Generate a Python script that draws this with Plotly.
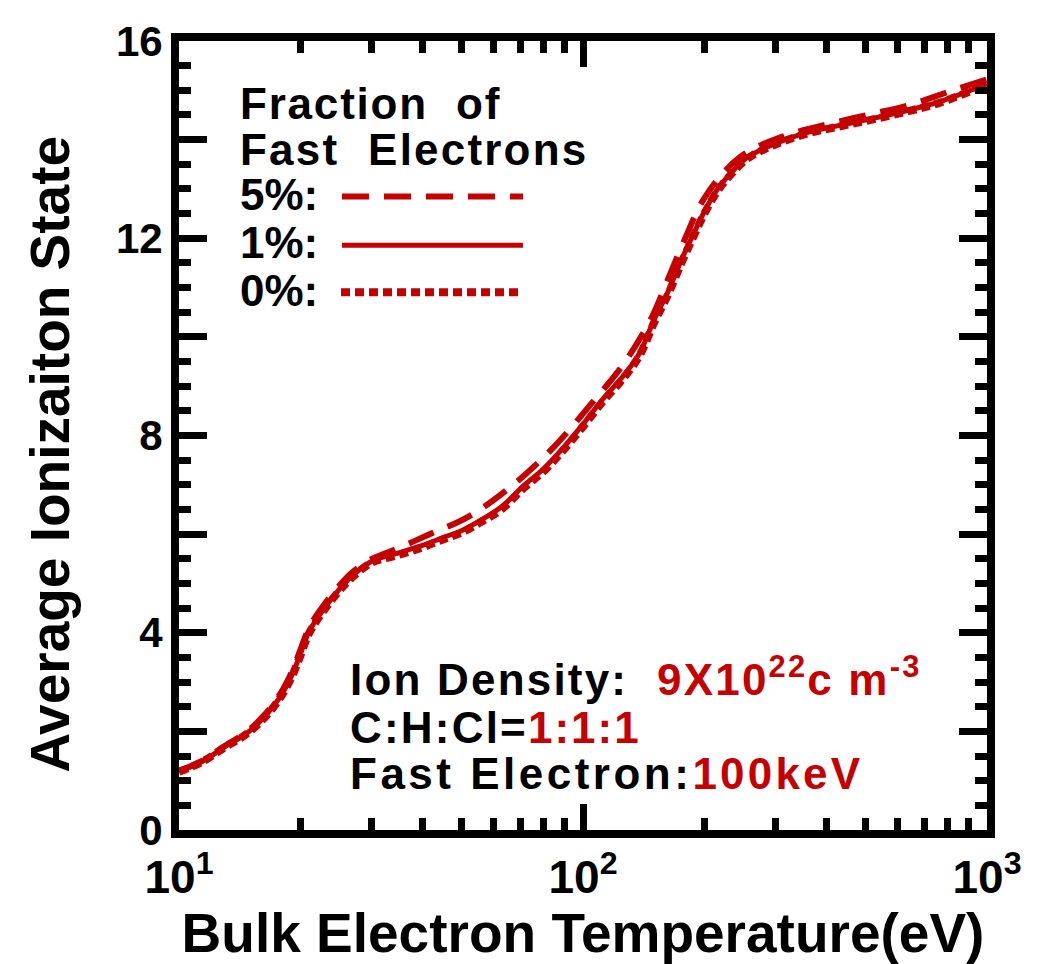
import plotly.graph_objects as go

# Bulk electron temperature (eV) and average ionization state for each fast-electron fraction
temp_1pct = [10, 11.4, 13.0, 14.6, 16.3, 17.8, 19.0, 19.9, 20.9, 22.1, 24.8, 26.8, 30, 35, 40,
             45, 50, 56, 63, 71, 80, 90, 100, 112, 125, 138, 150, 162, 175, 188, 200, 215,
             231, 255, 295, 358, 433, 522, 634, 765, 1000]
zbar_1pct = [1.19, 1.39, 1.69, 1.94, 2.30, 2.70, 3.13, 3.53, 3.99, 4.32, 4.86, 5.15, 5.45, 5.62,
             5.77, 5.93, 6.07, 6.29, 6.56, 6.97, 7.33, 7.78, 8.23, 8.74, 9.18, 9.67, 10.35, 10.9,
             11.55, 12.1, 12.55, 12.99, 13.30, 13.64, 13.90, 14.14, 14.29, 14.43, 14.59, 14.77,
             15.13]

temp_0pct = temp_1pct
zbar_0pct = [1.18, 1.38, 1.68, 1.93, 2.28, 2.68, 3.10, 3.50, 3.96, 4.29, 4.83, 5.12, 5.42, 5.58,
             5.73, 5.89, 6.03, 6.25, 6.51, 6.92, 7.28, 7.73, 8.18, 8.69, 9.13, 9.62, 10.29,
             10.84, 11.49, 12.05, 12.51, 12.95, 13.27, 13.61, 13.88, 14.12, 14.27, 14.41, 14.57,
             14.75, 15.12]

temp_5pct = [10, 11.4, 13.0, 14.6, 16.3, 17.8, 19.0, 19.9, 20.9, 22.1, 24.8, 26.8, 30, 32.7,
             41.3, 52.2, 66.7, 84.3, 105, 126, 147, 161, 178, 201, 245, 309, 398, 505, 641, 810,
             1000]
zbar_5pct = [1.20, 1.40, 1.71, 1.97, 2.34, 2.76, 3.20, 3.62, 4.07, 4.40, 4.93, 5.22, 5.50, 5.62,
             5.98, 6.36, 6.98, 7.75, 8.65, 9.45, 10.35, 11.10, 11.95, 12.85, 13.65, 14.05,
             14.30, 14.50, 14.70, 14.98, 15.22]

x_tick_vals = [10, 100, 1000]
x_tick_text = ["10<sup>1</sup>", "10<sup>2</sup>", "10<sup>3</sup>"]
x_minor_vals = [20, 30, 40, 50, 60, 70, 80, 90, 200, 300, 400, 500, 600, 700, 800, 900]
y_tick_vals = [0, 2, 4, 6, 8, 10, 12, 14, 16]
y_tick_text = ["0", "", "4", "", "8", "", "12", "", "16"]

RED = "#c40000"
FONT = "Liberation Sans, Arial, sans-serif"
NB = "\u00a0"


def spaced(txt, px):
    """Wrap text in a span with extra letter spacing."""
    return "<span style='letter-spacing:%.1fpx'>%s</span>" % (px, txt)


def spaced_red(txt, px):
    return "<span style='color:%s;letter-spacing:%.1fpx'>%s</span>" % (RED, px, txt)


fig = go.Figure()
fig.add_trace(go.Scatter(x=temp_0pct, y=zbar_0pct, mode="lines", line_shape="spline",
                         line=dict(color=RED, width=8, dash="9px,5px"), name="0%"))
fig.add_trace(go.Scatter(x=temp_5pct, y=zbar_5pct, mode="lines", line_shape="spline",
                         line=dict(color=RED, width=6, dash="27px,15px"), name="5%"))
fig.add_trace(go.Scatter(x=temp_1pct, y=zbar_1pct, mode="lines", line_shape="spline",
                         line=dict(color=RED, width=5), name="1%"))

axis_common = dict(showline=True, linecolor="black", linewidth=8, mirror="allticks",
                   ticks="inside", tickcolor="black", tickwidth=7, showgrid=False,
                   zeroline=False)

fig.update_xaxes(type="log", range=[1, 3], tickmode="array", tickvals=x_tick_vals,
                 ticktext=x_tick_text, ticklen=26,
                 tickfont=dict(family=FONT, size=46, color="black", weight="bold"),
                 minor=dict(tickmode="array", tickvals=x_minor_vals, ticks="inside",
                            ticklen=12, tickwidth=7, tickcolor="black"),
                 title=dict(text="Bulk Electron Temperature(eV)", standoff=10,
                            font=dict(family=FONT, size=55, color="black", weight="bold")),
                 **axis_common)
fig.update_yaxes(range=[0, 16], tickmode="array", tickvals=y_tick_vals, ticktext=y_tick_text,
                 ticklen=28,
                 tickfont=dict(family=FONT, size=42, color="black", weight="bold"),
                 minor=dict(dtick=0.5, ticks="inside", ticklen=12, tickwidth=7,
                            tickcolor="black"),
                 **axis_common)

annotations = [
    # y-axis title
    dict(text="Average Ionizaiton State", textangle=-90, x=-0.1597, y=0.477,
         xref="paper", yref="paper", xanchor="center", yanchor="middle", showarrow=False,
         font=dict(family=FONT, size=55, color="black", weight="bold")),
]

# Legend block drawn as text with line samples
legend_font = dict(family=FONT, size=44, color="black", weight="bold")
legend_rows = [(spaced("Fraction" + NB + " of", 1.8), 0.9207),
               (spaced("Fast" + NB + " Electrons", 2.2), 0.8625),
               ("5%:", 0.8055),
               ("1%:", 0.7447),
               ("0%:", 0.684)]
for txt, yp in legend_rows:
    annotations.append(dict(text=txt, x=0.073, y=yp, xref="paper", yref="paper",
                            xanchor="left", yanchor="middle", showarrow=False,
                            font=legend_font))

shapes = [
    dict(type="line", xref="paper", yref="paper", x0=0.2017, x1=0.4257, y0=0.803, y1=0.803,
         line=dict(color=RED, width=6, dash="27px,15px")),
    dict(type="line", xref="paper", yref="paper", x0=0.2017, x1=0.4257, y0=0.741, y1=0.741,
         line=dict(color=RED, width=5)),
    dict(type="line", xref="paper", yref="paper", x0=0.2005, x1=0.4257, y0=0.6815, y1=0.6815,
         line=dict(color=RED, width=8, dash="9px,5px")),
]

# Simulation conditions
info_font = dict(family=FONT, size=44, color="black", weight="bold")
info_rows = [
    (spaced("Ion" + NB + "Density:" + NB + NB, 2.2)
     + spaced_red("9X10<sup>22</sup>c" + NB + "m<sup>-3</sup>", 2.2), 0.1942),
    (spaced("C:H:Cl=", 2.2) + spaced_red("1:1:1", 2.0), 0.1300),
    (spaced("Fast" + NB + "Electron:", 3.5) + spaced_red("100keV", 3.2), 0.0720),
]
for txt, yp in info_rows:
    annotations.append(dict(text=txt, x=0.209, y=yp, xref="paper", yref="paper",
                            xanchor="left", yanchor="middle", showarrow=False,
                            font=info_font))

fig.update_layout(width=1044, height=964, margin=dict(l=179, r=57, t=41, b=116),
                  plot_bgcolor="white", paper_bgcolor="white", showlegend=False,
                  annotations=annotations, shapes=shapes)

fig.write_html("out.html")
